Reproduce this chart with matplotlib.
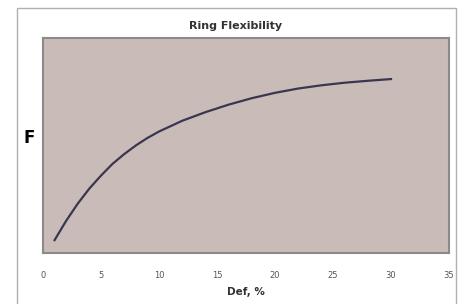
import matplotlib
matplotlib.use("Agg")
import matplotlib.pyplot as plt
from matplotlib.patches import Rectangle

# deflection (%) vs ring flexibility (arbitrary units, no y scale shown)
defl = [1, 2, 3, 4, 5, 6, 7, 8, 9, 10, 12, 14, 16, 18, 20, 22, 24, 26, 28, 30]
flex = [6.0, 15.0, 23.0, 30.0, 36.0, 41.5, 46.0, 50.0, 53.5, 56.5,
        61.5, 65.5, 69.0, 72.0, 74.5, 76.5, 78.0, 79.2, 80.1, 80.9]
xticks = [0, 5, 10, 15, 20, 25, 30, 35]

W, H = 462, 304
fig = plt.figure(figsize=(W / 100, H / 100), dpi=100)
fig.patch.set_facecolor("white")

# outer chart border
fig.patches.append(Rectangle((17 / W, -0.05), (456 - 17) / W, 1.05 - 8 / H,
                             transform=fig.transFigure, fill=False,
                             edgecolor="#b0b0b0", linewidth=1.0))

ax = fig.add_axes([43 / W, 1 - 253 / H, (449 - 43) / W, (253 - 38) / H])
ax.set_facecolor("#c9bcb8")
ax.plot(defl, flex, color="#3b3650", linewidth=1.6)

ax.set_xlim(0, 35)
ax.set_ylim(0, 100)
ax.set_xticks(xticks)
ax.set_xticklabels([str(t) for t in xticks], fontsize=6, color="#555555")
ax.tick_params(axis="x", length=0, pad=13)
ax.set_yticks([])
for s in ax.spines.values():
    s.set_color("#8a8a8a")
    s.set_linewidth(1.5)

fig.text(236 / W, 1 - 26 / H, "Ring Flexibility", fontsize=8,
         fontweight="bold", color="#333333", ha="center", va="center")
ax.set_xlabel("Def, %", fontsize=7.5, fontweight="bold", color="#333333",
              labelpad=5)
fig.text(29 / W, 1 - 138 / H, "F", fontsize=12, fontweight="bold",
         ha="center", va="center", color="black")

fig.savefig("out.png", dpi=100)
